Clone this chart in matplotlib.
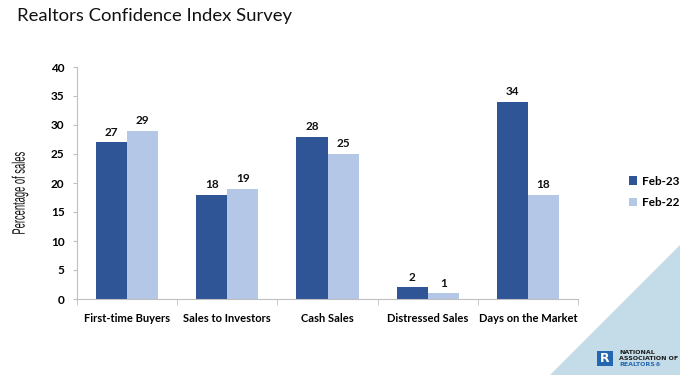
import matplotlib.pyplot as plt
import matplotlib.patches as mpatches
from matplotlib.textpath import TextPath
from matplotlib.font_manager import FontProperties
from matplotlib.transforms import Affine2D
import numpy as np

categories = ["First-time Buyers", "Sales to Investors", "Cash Sales", "Distressed Sales", "Days on the Market"]
feb23 = [27, 18, 28, 2, 34]
feb22 = [29, 19, 25, 1, 18]

dark = "#2F5597"
light = "#B4C7E7"

plt.rcParams["font.family"] = ["Lato", "DejaVu Sans"]

fig = plt.figure(figsize=(6.8, 3.75), dpi=100)

# background in pixel coords (y down)
bg = fig.add_axes([0, 0, 1, 1], zorder=0)
bg.set_xlim(0, 680)
bg.set_ylim(375, 0)
bg.axis("off")
bg.add_patch(mpatches.Polygon([[680, 245], [680, 375], [550, 375]], closed=True,
                              facecolor="#C3DCE8", edgecolor="none"))
# logo
bg.add_patch(mpatches.Rectangle((597, 351), 16, 15, facecolor="#2566B0", edgecolor="none"))
bg.text(605, 358.5, "R", color="white", fontsize=9, fontweight="bold", ha="center", va="center",
        family="DejaVu Sans")
logo_font = dict(fontsize=4.5, fontweight="bold", va="center", family="DejaVu Sans")
bg.text(619, 353, "NATIONAL", color="#1a1a1a", **logo_font)
bg.text(619, 358.5, "ASSOCIATION OF", color="#1a1a1a", **logo_font)
bg.text(619, 364, "REALTORS®", color="#2566B0", **logo_font)

# condensed y-axis label
fp = FontProperties(family="Liberation Sans")
tp = TextPath((0, 0), "Percentage of sales", size=18, prop=fp)
ext = tp.get_extents()
tr = (Affine2D().translate(-(ext.x0 + ext.x1) / 2, -(ext.y0 + ext.y1) / 2)
      .scale(0.52, 1).rotate_deg(90).scale(1, -1).translate(20, 193))
bg.add_patch(mpatches.PathPatch(tr.transform_path(tp), facecolor="#111111", edgecolor="none"))

fig.text(17 / 680, 1 - 16 / 375, "Realtors Confidence Index Survey", fontsize=13.3,
         ha="left", va="center", color="#111111")

ax = fig.add_axes([77 / 680, 1 - 299 / 375, (578 - 77) / 680, (299 - 67) / 375], zorder=1)
ax.patch.set_alpha(0)
x = np.arange(len(categories))
w = 0.31
b1 = ax.bar(x - w / 2, feb23, w, color=dark, label="Feb-23")
b2 = ax.bar(x + w / 2, feb22, w, color=light, label="Feb-22")
for bars in (b1, b2):
    for r in bars:
        ax.text(r.get_x() + r.get_width() / 2, r.get_height() + 0.8, f"{int(r.get_height())}",
                ha="center", va="bottom", fontsize=8.5, fontweight="bold", color="#111111")

ax.set_xlim(-0.5, len(categories) - 0.5)
ax.set_ylim(0, 40)
ax.set_yticks(range(0, 41, 5))
ax.set_xticks(x)
ax.set_xticklabels(categories, fontsize=8, fontweight="bold")
ax.set_xticks(np.arange(-0.5, len(categories)), minor=True)
ax.tick_params(axis="x", which="major", length=0, pad=10)
ax.tick_params(axis="x", which="minor", length=4, color="#BFBFBF")
ax.tick_params(axis="y", length=3, color="#BFBFBF", labelsize=8.5, pad=6)
for lab in ax.get_yticklabels():
    lab.set_fontweight("bold")
for s in ["top", "right"]:
    ax.spines[s].set_visible(False)
ax.spines["left"].set_color("#BFBFBF")
ax.spines["bottom"].set_color("#BFBFBF")

leg = fig.legend(handles=[b1, b2], loc="center left", bbox_to_anchor=(618 / 680, 1 - 192 / 375),
                 frameon=False, fontsize=8.5, handlelength=0.7, handleheight=0.7,
                 handletextpad=0.4, labelspacing=0.9)
for t in leg.get_texts():
    t.set_fontweight("bold")

fig.savefig("out.png", dpi=100)
